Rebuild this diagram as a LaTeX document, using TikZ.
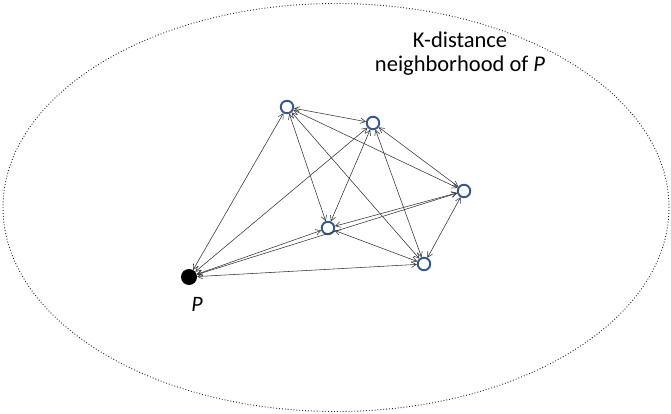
\documentclass[tikz,border=0pt]{standalone}
\usepackage{fontspec}
\setmainfont{Carlito}
\usepackage{tikz}
\usetikzlibrary{arrows.meta}
\definecolor{ptblue}{RGB}{55,88,140}

\begin{document}
\begin{tikzpicture}[
    x=1pt, y=-1pt,
    pt/.style={
      circle, draw=ptblue, line width=1.9pt, fill=white,
      inner sep=0pt, minimum size=12.5pt
    },
    query/.style={
      circle, fill=black, inner sep=0pt, minimum size=16pt
    },
    arrow/.style={{Straight Barb[length=5pt,width=5.5pt]}-{Straight Barb[length=5pt,width=5.5pt]},
      line width=0.55pt, draw=black!80}
  ]
    \useasboundingbox (0,0) rectangle (671,414);
    \draw[dotted, line width=0.9pt, black!85] (336,207.5) ellipse [x radius=333, y radius=-204];

    \node[query] (p) at (189,277) {};
    \node[pt] (a) at (287,107) {};
    \node[pt] (b) at (373,123) {};
    \node[pt] (c) at (464,191) {};
    \node[pt] (d) at (328,228) {};
    \node[pt] (e) at (424,264) {};

    \node[font=\fontsize{22}{24}\selectfont\itshape] (plabel) at (197,304) {P};
    \node[align=center, font=\fontsize{22.5}{24}\selectfont] (title) at (460,54)
      {K-distance\\neighborhood of \textit{P}};

    \draw[arrow] (p) -- (a);
    \draw[arrow] (p) -- (b);
    \draw[arrow] (p) -- (d);
    \draw[arrow] (p) -- (c);
    \draw[arrow] (p) -- (e);
    \draw[arrow] (a) -- (b);
    \draw[arrow] (a) -- (d);
    \draw[arrow] (a) -- (e);
    \draw[arrow] (a) -- (c);
    \draw[arrow] (b) -- (d);
    \draw[arrow] (b) -- (e);
    \draw[arrow] (b) -- (c);
    \draw[arrow] (d) -- (c);
    \draw[arrow] (d) -- (e);
    \draw[arrow] (c) -- (e);
  \end{tikzpicture}
\end{document}
